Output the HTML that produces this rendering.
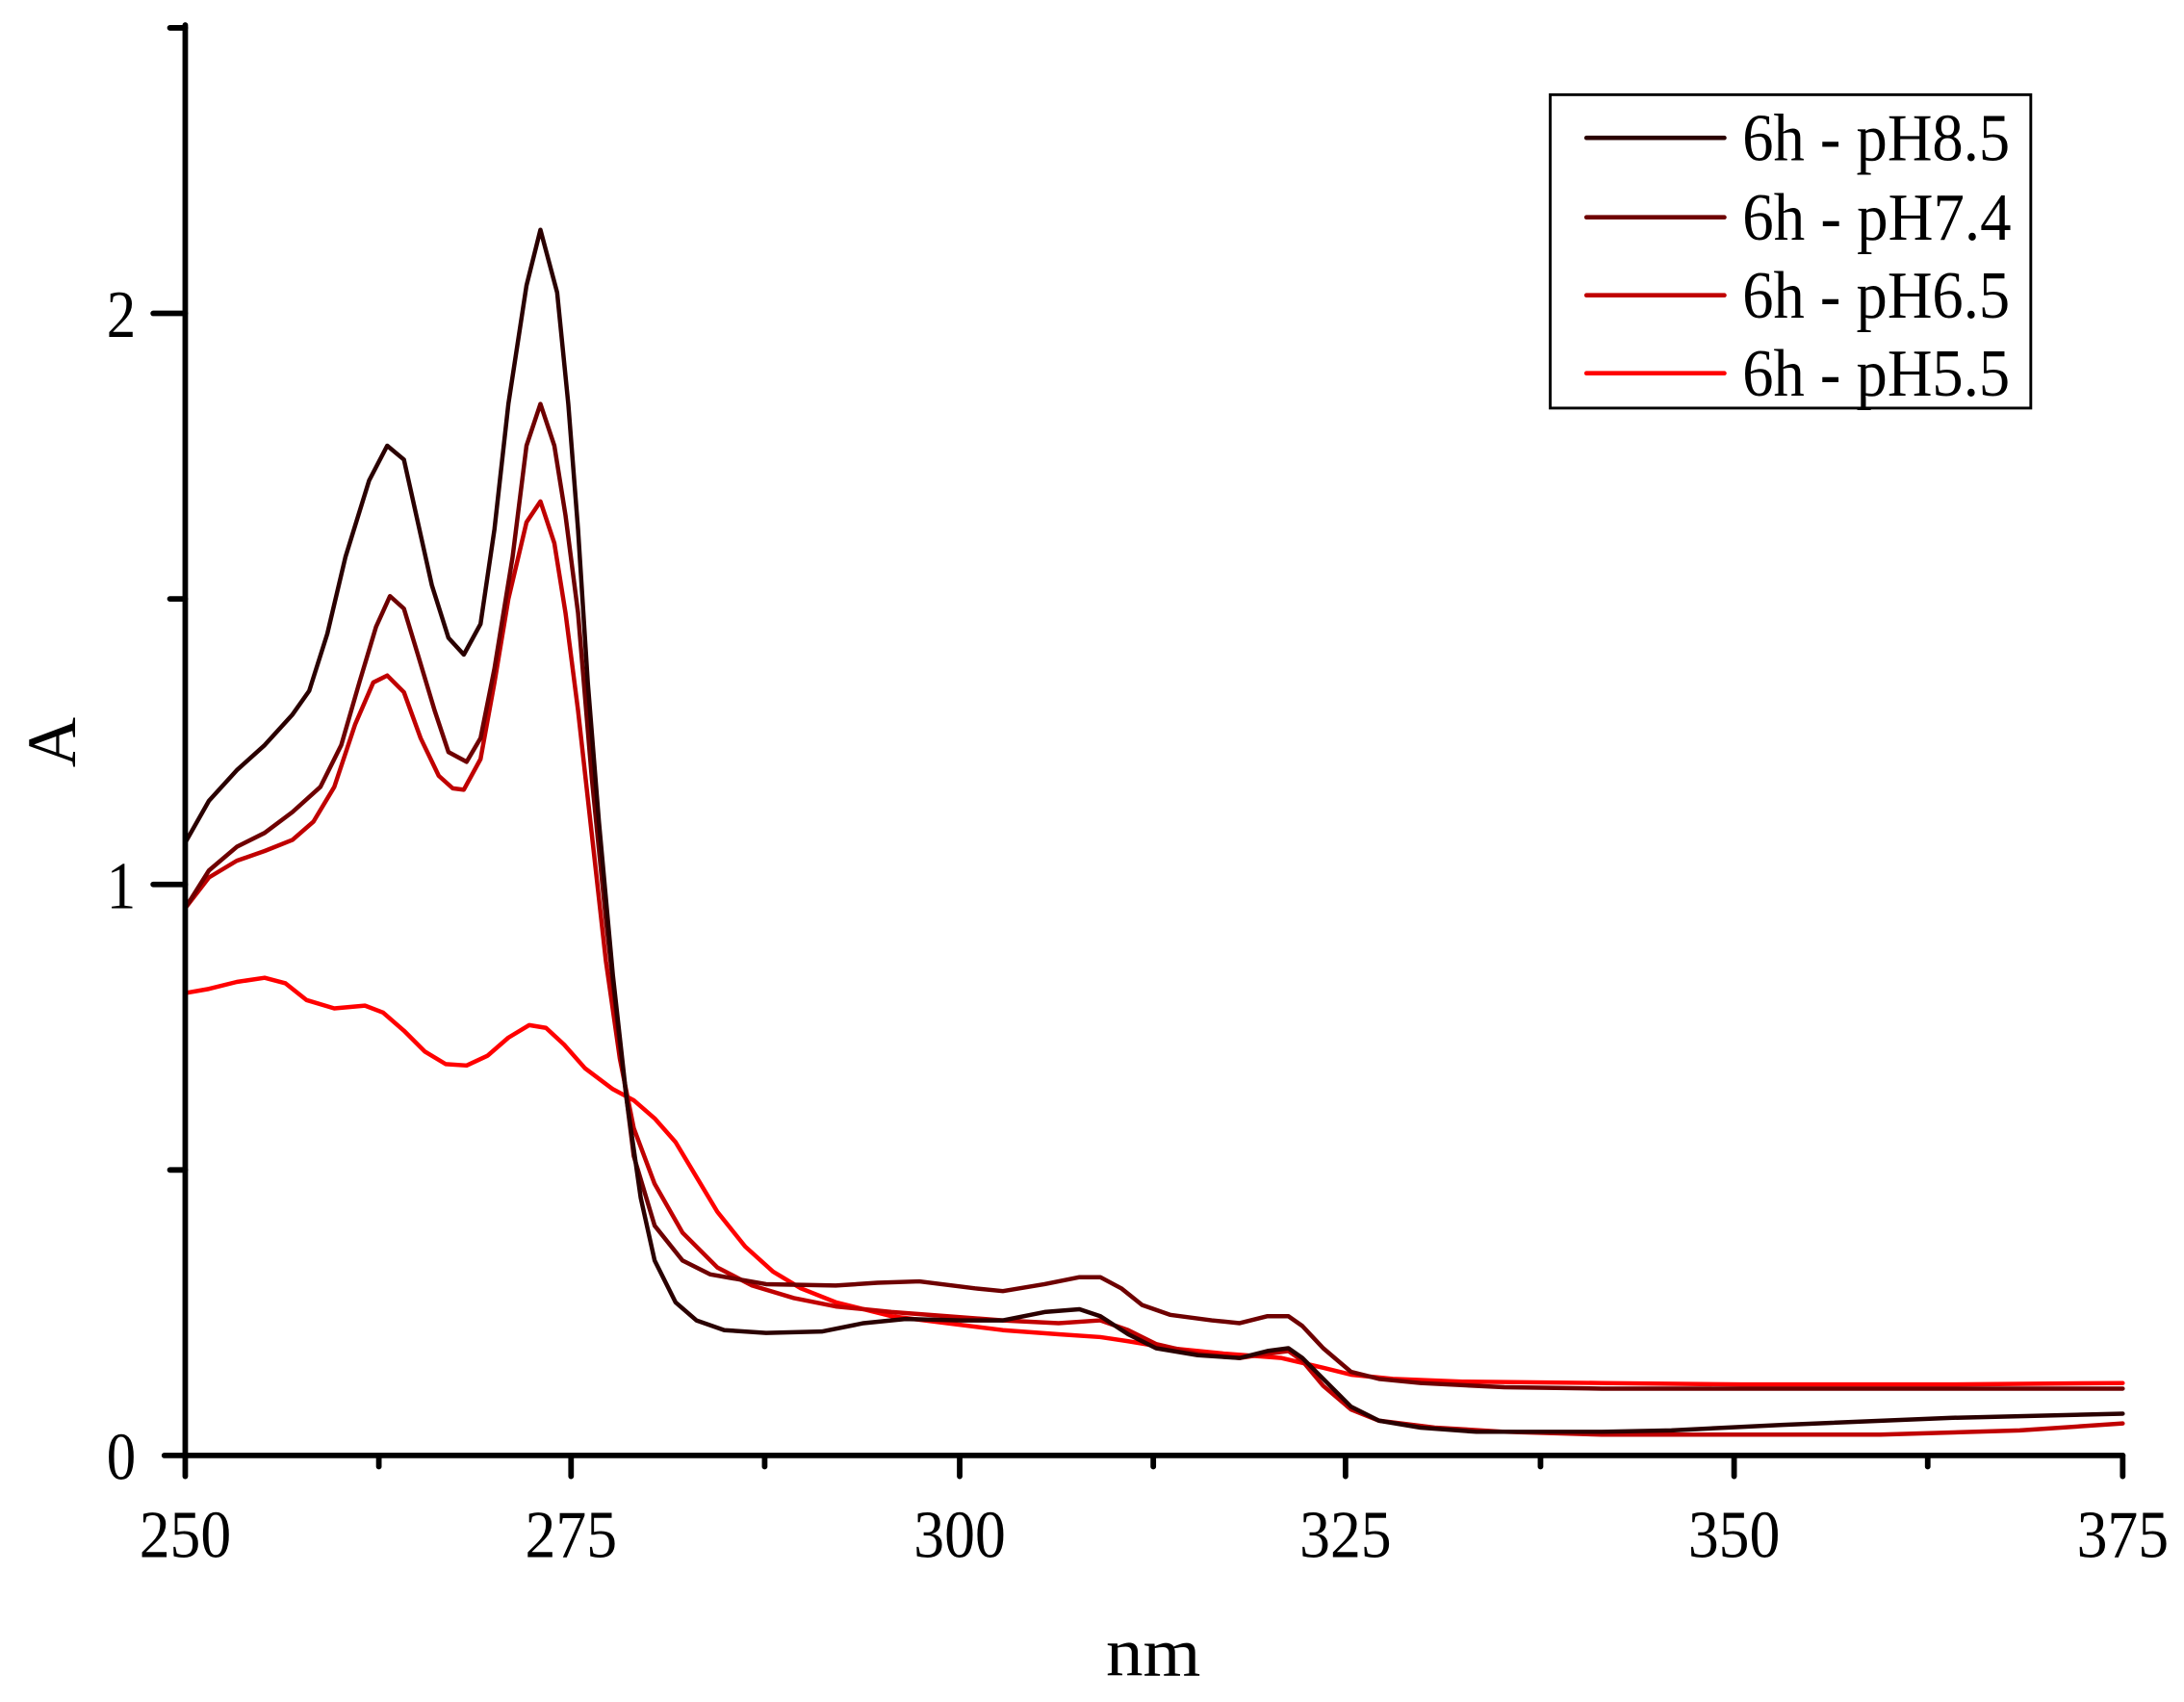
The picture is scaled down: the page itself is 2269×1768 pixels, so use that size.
<!DOCTYPE html>
<html><head><meta charset="utf-8"><style>html,body{margin:0;padding:0;background:#fff}svg{display:block}</style></head>
<body>
<svg width="2269" height="1768" viewBox="0 0 1568 1222" preserveAspectRatio="none" xmlns="http://www.w3.org/2000/svg">
<rect width="1568" height="1222" fill="#fff"/>
<g fill="none" stroke-linejoin="round" stroke-linecap="round" stroke-width="3.1">
<polyline stroke="#ff0000" points="133,713 150,710 170,705 190,702 205,706 220,718 240,724 262,722 275,727 290,740 305,755 320,764 335,765 350,758 365,745 380,736 392,738 405,750 420,767 440,782 455,790 470,803 485,820 500,845 515,870 535,895 555,913 575,925 600,935 640,945 680,950 720,955 760,958 790,960 810,963 840,968 880,972 920,975 950,982 970,987 1000,990 1050,992 1150,993 1250,994 1400,994 1524,993"/>
<polyline stroke="#c00000" points="133,652 150,630 170,618 190,611 210,603 225,590 240,565 255,520 268,490 278,485 290,497 302,530 315,557 325,566 333,567 345,545 355,490 365,430 378,375 388,360 398,390 406,440 415,510 425,600 435,690 445,760 455,810 470,850 490,885 515,910 540,923 570,932 600,938 640,942 680,945 720,948 760,950 790,948 810,955 830,965 860,972 890,975 910,972 925,970 935,977 950,995 970,1012 990,1020 1030,1025 1080,1028 1150,1030 1250,1030 1350,1030 1450,1027 1524,1022"/>
<polyline stroke="#6e0000" points="133,652 150,625 170,608 190,598 210,583 230,565 245,535 258,490 270,450 280,428 290,437 300,470 312,510 322,540 335,547 345,530 355,480 368,400 378,320 388,290 398,320 406,370 415,440 425,560 435,660 445,750 455,830 470,880 490,905 510,915 550,922 600,923 630,921 660,920 700,925 720,927 750,922 775,917 790,917 805,925 820,937 840,944 870,948 890,950 910,945 925,945 935,952 950,968 970,985 990,990 1020,993 1080,996 1150,997 1250,997 1400,997 1524,997"/>
<polyline stroke="#2a0000" points="133,605 150,575 170,553 190,535 210,513 222,496 235,455 248,400 265,345 278,320 290,330 300,375 310,420 322,458 333,470 345,448 355,380 365,290 378,205 388,165 400,210 408,290 415,380 422,490 430,590 440,700 450,790 460,860 470,905 485,935 500,948 520,955 550,957 590,956 620,950 650,947 690,948 720,948 750,942 775,940 790,945 810,958 830,968 860,973 890,975 910,970 925,968 935,975 950,990 970,1010 990,1020 1020,1025 1060,1028 1100,1028 1150,1028 1200,1027 1280,1023 1400,1018 1524,1015"/>
</g>
<g stroke="#000" stroke-width="4" stroke-linecap="round" fill="none">
<line x1="133" y1="18" x2="133" y2="1060"/>
<line x1="118" y1="1045" x2="1524" y2="1045"/>
<path d="M110,635H133M110,225H133M122,840H133M122,430H133M122,20H133"/>
<path d="M410,1045V1060M689,1045V1060M966,1045V1060M1245,1045V1060M1524,1045V1060M272,1045V1053M549,1045V1053M828,1045V1053M1106,1045V1053M1384,1045V1053"/>
</g>
<g font-family="Liberation Serif, serif" font-size="48" fill="#000" text-anchor="middle">
<text x="133" y="1118" textLength="66" lengthAdjust="spacingAndGlyphs">250</text>
<text x="410" y="1118" textLength="66" lengthAdjust="spacingAndGlyphs">275</text>
<text x="689" y="1118" textLength="66" lengthAdjust="spacingAndGlyphs">300</text>
<text x="966" y="1118" textLength="66" lengthAdjust="spacingAndGlyphs">325</text>
<text x="1245" y="1118" textLength="66" lengthAdjust="spacingAndGlyphs">350</text>
<text x="1524" y="1118" textLength="66" lengthAdjust="spacingAndGlyphs">375</text>
<text x="87" y="1062" textLength="21" lengthAdjust="spacingAndGlyphs">0</text>
<text x="87" y="652" textLength="21" lengthAdjust="spacingAndGlyphs">1</text>
<text x="87" y="242" textLength="21" lengthAdjust="spacingAndGlyphs">2</text>
<text x="828" y="1203" font-size="50" textLength="68" lengthAdjust="spacingAndGlyphs">nm</text>
<text transform="translate(54,533) rotate(-90)" font-size="50">A</text>
</g>
<rect x="1113" y="68" width="345" height="225" fill="none" stroke="#000" stroke-width="2"/>
<g stroke-width="3.2" stroke-linecap="round">
<line x1="1139" y1="99" x2="1238" y2="99" stroke="#2a0000"/>
<line x1="1139" y1="156" x2="1238" y2="156" stroke="#6e0000"/>
<line x1="1139" y1="212" x2="1238" y2="212" stroke="#c00000"/>
<line x1="1139" y1="268" x2="1238" y2="268" stroke="#ff0000"/>
</g>
<g font-family="Liberation Serif, serif" font-size="48" fill="#000">
<text x="1251" y="115" textLength="192" lengthAdjust="spacingAndGlyphs">6h - pH8.5</text>
<text x="1251" y="172" textLength="193" lengthAdjust="spacingAndGlyphs">6h - pH7.4</text>
<text x="1251" y="228" textLength="192" lengthAdjust="spacingAndGlyphs">6h - pH6.5</text>
<text x="1251" y="284" textLength="192" lengthAdjust="spacingAndGlyphs">6h - pH5.5</text>
</g>
</svg>
</body></html>
